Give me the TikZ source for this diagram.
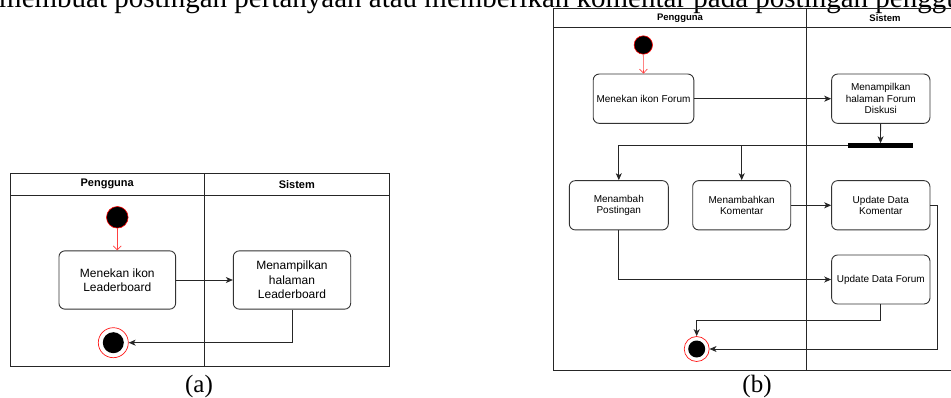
\documentclass[tikz,border=0pt]{standalone}
\usepackage{fontspec}
\setmainfont{Liberation Serif}
\newfontfamily\lanefont{Liberation Sans}
\usetikzlibrary{arrows.meta, positioning, calc}
\tikzset{
    lane/.style={draw=black!85, line width=0.9pt},
    lanehead/.style={font=\lanefont\bfseries\fontsize{11}{13}\selectfont, inner sep=0pt},
    laneheadsmall/.style={font=\lanefont\bfseries\fontsize{9.5}{11}\selectfont, inner sep=0pt},
    activity/.style={rectangle, rounded corners=6pt, draw=black!80, line width=0.9pt, fill=white, align=center, font=\lanefont\fontsize{12}{14.5}\selectfont},
    activitysmall/.style={rectangle, rounded corners=6pt, draw=black!80, line width=0.9pt, fill=white, align=center, font=\lanefont\fontsize{10}{11.7}\selectfont},
    startstate/.style={circle, draw=red, fill=black, line width=0.6pt, inner sep=0pt},
    endstate/.style={circle, draw=red!90, fill=white, line width=0.7pt, inner sep=0pt,
        path picture={\fill[black] (path picture bounding box.center) circle (#1);}},
    forkbar/.style={rectangle, fill=black, inner sep=0pt, minimum height=4.5pt},
    arrow/.style={-{Stealth[length=7pt, width=6pt, inset=2pt]}, line width=0.8pt, draw=black!85},
    initarrow/.style={-{Straight Barb[length=4pt, width=8pt]}, line width=0.7pt, draw=red!75},
    caption/.style={font=\fontsize{25}{28}\selectfont, inner sep=0pt}
}

\begin{document}
\begin{tikzpicture}[x=1pt, y=-1pt]
    \useasboundingbox (0,0) rectangle (951,398);
    \clip (0,0) rectangle (951,398);

    % Line of text above, cut off by the page
    \node (textline) [anchor=base west, inner sep=0pt, font=\fontsize{29}{34}\selectfont] at (-1, 7.3) {membuat postingan pertanyaan atau memberikan komentar pada postingan pengguna};

    % Swimlanes (a)
    \draw[lane] (10,173.3) rectangle (389.3,366.7);
    \draw[lane] (10,195) -- (389.3,195);
    \draw[lane] (204.3,173.3) -- (204.3,366.7);
    \node (pengguna_a) [lanehead] at (107.2,184.2) {Pengguna};
    \node (sistem_a) [lanehead] at (296.8,184.2) {Sistem};

    % Inside (a)
    \node (start_a) [startstate, minimum size=21.6pt] at (117.3,217.3) {};
    \node (tekan_a) [activity, minimum width=116.7pt, minimum height=58.3pt] at (117.3,280) {Menekan ikon\\Leaderboard};
    \node (tampil_a) [activity, minimum width=117.4pt, minimum height=58.3pt] at (292,280) {Menampilkan\\halaman\\Leaderboard};
    \node (end_a) [endstate=10.5pt, minimum size=30pt] at (113.3,342.7) {};

    \draw [initarrow] (start_a) -- (tekan_a);
    \draw [arrow] (tekan_a) -- (tampil_a);
    \draw [arrow] (tampil_a.south) |- (end_a);

    \node (label_a) [caption] at (199,386.7) {(a)};

    % Swimlanes (b)
    \draw[lane] (553.3,8.3) rectangle (963,370);
    \draw[lane] (553.3,27.3) -- (963,27.3);
    \draw[lane] (806.7,8.3) -- (806.7,370);
    \node (pengguna_b) [laneheadsmall] at (680,18) {Pengguna};
    \node (sistem_b) [laneheadsmall] at (885,18) {Sistem};

    % Inside (b)
    \node (start_b) [startstate, minimum size=18.4pt] at (643.3,45) {};
    \node (tekan_b) [activitysmall, minimum width=98.4pt, minimum height=49.3pt] at (643.5,98.7) {Menekan ikon Forum};
    \node (tampil_b) [activitysmall, minimum width=98.3pt, minimum height=49.3pt] at (880.8,98.7) {Menampilkan\\halaman Forum\\Diskusi};
    \node (fork_b) [forkbar, minimum width=65.6pt] at (880.5,145.7) {};
    \node (posting_b) [activitysmall, minimum width=99pt, minimum height=49.3pt] at (618.8,205.3) {Menambah\\Postingan};
    \node (komentar_b) [activitysmall, minimum width=98pt, minimum height=49.3pt] at (741.7,205.3) {Menambahkan\\Komentar};
    \node (updkomentar_b) [activitysmall, minimum width=98.3pt, minimum height=49.3pt] at (880.8,205.3) {Update Data\\Komentar};
    \node (updforum_b) [activitysmall, minimum width=98.3pt, minimum height=49pt] at (880.8,279.5) {Update Data Forum};
    \node (end_b) [endstate=8.5pt, minimum size=25pt] at (696.7,349) {};
    \coordinate (turn_b) at (696.7,320);
    \coordinate (side_b) at (937.7,205.3);

    \draw [initarrow] (start_b) -- (tekan_b);
    \draw [arrow] (tekan_b) -- (tampil_b);
    \draw [arrow] (tampil_b) -- (fork_b);
    \draw [arrow] (fork_b.west) -| (posting_b.north);
    \draw [arrow] (fork_b.west) -| (komentar_b.north);
    \draw [arrow] (komentar_b) -- (updkomentar_b);
    \draw [arrow] (posting_b.south) |- (updforum_b.west);
    \draw [arrow] (updforum_b.south) |- (turn_b) -- (end_b);
    \draw [arrow] (updkomentar_b.east) -- (side_b) |- (end_b.east);

    \node (label_b) [caption] at (757,386.7) {(b)};
\end{tikzpicture}
\end{document}
